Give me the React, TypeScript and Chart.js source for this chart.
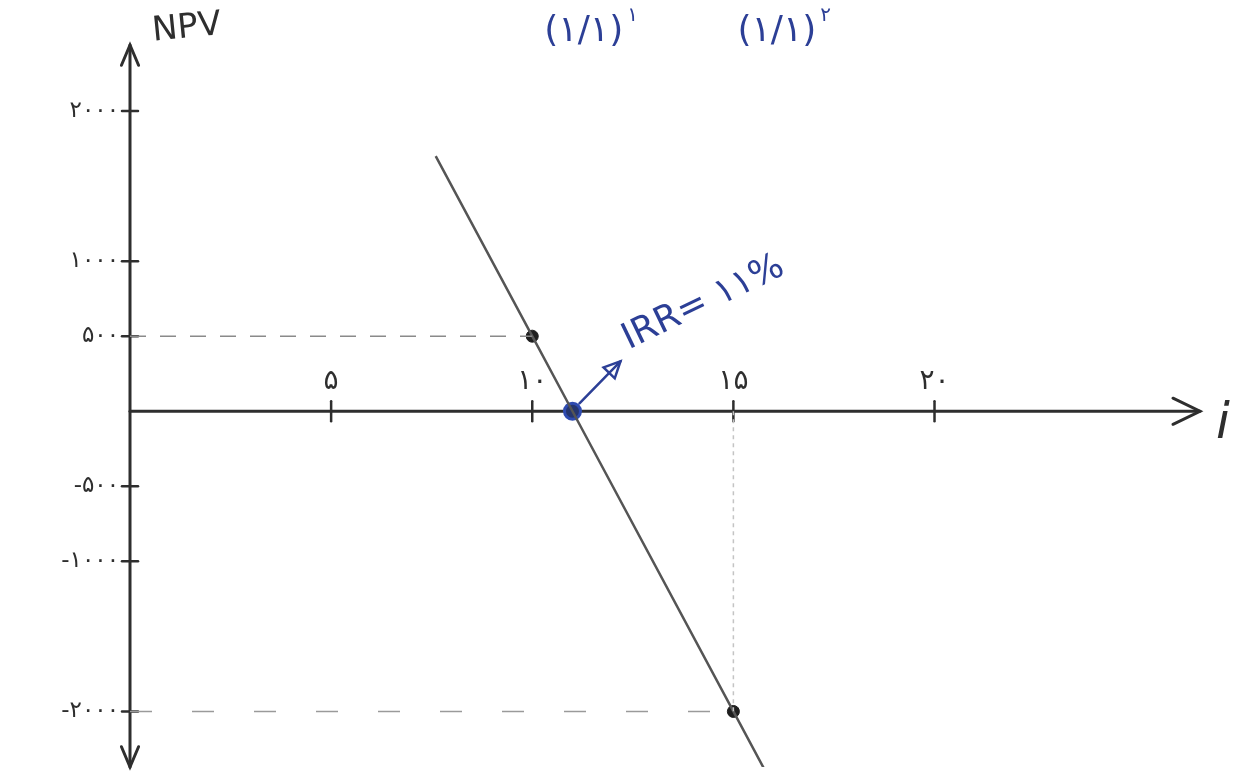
import React, { useEffect, useRef } from "react";
import { Chart, registerables } from "chart.js";

Chart.register(...registerables);

// Axis ticks and their (Persian) labels
const rateTicks = [5, 10, 15, 20];
const rateLabels = ["۵", "۱۰", "۱۵", "۲۰"];
const npvTicks = [2000, 1000, 500, -500, -1000, -2000];
const npvLabels = ["۲۰۰۰", "۱۰۰۰", "۵۰۰", "-۵۰۰", "-۱۰۰۰", "-۲۰۰۰"];

// NPV profile line (rate %, NPV)
const profileRates = [7.6, 10, 11, 15, 15.8];
const profileNpv = [1700, 500, 0, -2000, -2400];

// Evaluated points on the profile
const knownRates = [10, 15];
const knownNpv = [500, -2000];

// Internal rate of return
const irrRate = 11;
const irrNpv = 0;
const irrLabel = "IRR= ۱۱%";

// Formula fragments written above the chart
const formulaBase = ["(۱/۱)", "(۱/۱)"];
const formulaPower = ["۱", "۲"];

const X_MIN = 0;
const X_MAX = 26.6;
const Y_MIN = -2370;
const Y_MAX = 2440;

const PENCIL = "#2e2e2e";
const INK = "#2c3f96";
const DIGIT_FONT = '"DejaVu Sans", "Noto Sans", sans-serif';

const pts = (xs: number[], ys: number[]) => xs.map((x, i) => ({ x, y: ys[i] }));

function arrowHead(ctx: CanvasRenderingContext2D, tx: number, ty: number, angle: number, len: number, spread: number) {
  ctx.beginPath();
  ctx.moveTo(tx - len * Math.cos(angle - spread), ty - len * Math.sin(angle - spread));
  ctx.lineTo(tx, ty);
  ctx.lineTo(tx - len * Math.cos(angle + spread), ty - len * Math.sin(angle + spread));
  ctx.stroke();
}

const sketchAxes = {
  id: "sketchAxes",
  beforeDatasetsDraw(chart: any) {
    const { ctx, scales } = chart;
    const xs = scales.x;
    const ys = scales.y;
    const x0 = xs.getPixelForValue(0);
    const y0 = ys.getPixelForValue(0);
    ctx.save();
    ctx.strokeStyle = PENCIL;
    ctx.lineWidth = 3;
    ctx.lineCap = "round";

    // vertical NPV axis with arrows on both ends
    ctx.beginPath();
    ctx.moveTo(x0, ys.top);
    ctx.lineTo(x0, ys.bottom);
    ctx.stroke();
    arrowHead(ctx, x0, ys.top, -Math.PI / 2, 22, 0.4);
    arrowHead(ctx, x0, ys.bottom, Math.PI / 2, 22, 0.4);

    // horizontal rate axis
    ctx.beginPath();
    ctx.moveTo(x0, y0);
    ctx.lineTo(xs.right, y0);
    ctx.stroke();
    arrowHead(ctx, xs.right, y0, 0, 30, 0.45);

    // y ticks and labels
    ctx.lineWidth = 2.5;
    ctx.fillStyle = PENCIL;
    ctx.font = `23px ${DIGIT_FONT}`;
    ctx.textAlign = "right";
    ctx.textBaseline = "middle";
    npvTicks.forEach((v, i) => {
      const py = ys.getPixelForValue(v);
      ctx.beginPath();
      ctx.moveTo(x0 - 8, py);
      ctx.lineTo(x0 + 8, py);
      ctx.stroke();
      ctx.fillText(npvLabels[i], x0 - 11, py);
    });

    // x ticks and labels
    ctx.textAlign = "center";
    ctx.textBaseline = "bottom";
    ctx.font = `28px ${DIGIT_FONT}`;
    rateTicks.forEach((v, i) => {
      const px = xs.getPixelForValue(v);
      ctx.beginPath();
      ctx.moveTo(px, y0 - 10);
      ctx.lineTo(px, y0 + 10);
      ctx.stroke();
      ctx.fillText(rateLabels[i], px, y0 - 16);
    });

    // axis titles
    ctx.save();
    ctx.translate(x0 + 24, ys.top + 4);
    ctx.rotate(-0.1);
    ctx.font = `34px ${DIGIT_FONT}`;
    ctx.textAlign = "left";
    ctx.textBaseline = "bottom";
    ctx.fillText("NPV", 0, 0);
    ctx.restore();

    ctx.font = `italic 50px ${DIGIT_FONT}`;
    ctx.textAlign = "left";
    ctx.textBaseline = "middle";
    ctx.fillText("i", xs.right + 16, y0 + 14);
    ctx.restore();
  },
  afterDatasetsDraw(chart: any) {
    const { ctx, scales } = chart;
    const xs = scales.x;
    const ys = scales.y;
    const ix = xs.getPixelForValue(irrRate);
    const iy = ys.getPixelForValue(irrNpv);
    ctx.save();
    ctx.strokeStyle = INK;
    ctx.fillStyle = INK;
    ctx.lineWidth = 2.5;
    ctx.lineCap = "round";

    // pointer from the IRR crossing to its label
    const sx = ix + 7, sy = iy - 8;
    const tx = ix + 48, ty = iy - 50;
    ctx.beginPath();
    ctx.moveTo(sx, sy);
    ctx.lineTo(tx, ty);
    ctx.stroke();
    const ang = Math.atan2(ty - sy, tx - sx);
    ctx.beginPath();
    ctx.moveTo(tx, ty);
    ctx.lineTo(tx - 18 * Math.cos(ang - 0.45), ty - 18 * Math.sin(ang - 0.45));
    ctx.lineTo(tx - 18 * Math.cos(ang + 0.45), ty - 18 * Math.sin(ang + 0.45));
    ctx.closePath();
    ctx.stroke();

    ctx.save();
    ctx.translate(tx + 12, ty - 4);
    ctx.rotate(-0.45);
    ctx.font = `36px ${DIGIT_FONT}`;
    ctx.textAlign = "left";
    ctx.textBaseline = "bottom";
    ctx.fillText(irrLabel, 0, 0);
    ctx.restore();

    // formula fragments at the top
    const starts = [xs.getPixelForValue(10.3), xs.getPixelForValue(15.1)];
    formulaBase.forEach((t, i) => {
      ctx.font = `36px ${DIGIT_FONT}`;
      ctx.textAlign = "left";
      ctx.textBaseline = "middle";
      ctx.fillText(t, starts[i], 32);
      const w = ctx.measureText(t).width;
      ctx.font = `20px ${DIGIT_FONT}`;
      ctx.fillText(formulaPower[i], starts[i] + w + 4, 16);
    });
    ctx.restore();
  },
};

export default function App() {
  const ref = useRef<HTMLCanvasElement | null>(null);

  useEffect(() => {
    if (!ref.current) return;
    const guide = {
      type: "line" as const,
      showLine: true,
      pointRadius: 0,
      fill: false,
    };
    const chart = new Chart(ref.current, {
      type: "scatter",
      data: {
        datasets: [
          {
            ...guide,
            label: "NPV 500 guide",
            data: pts([0, knownRates[0]], [knownNpv[0], knownNpv[0]]),
            borderColor: "#8a8a8a",
            borderWidth: 1.5,
            borderDash: [16, 14],
          },
          {
            ...guide,
            label: "NPV -2000 guide",
            data: pts([0, knownRates[1]], [knownNpv[1], knownNpv[1]]),
            borderColor: "#9a9a9a",
            borderWidth: 1.5,
            borderDash: [22, 40],
          },
          {
            ...guide,
            label: "rate 15 guide",
            data: pts([knownRates[1], knownRates[1]], [0, knownNpv[1]]),
            borderColor: "#c4c4c4",
            borderWidth: 1.5,
            borderDash: [4, 4],
          },
          {
            ...guide,
            label: "NPV profile",
            data: pts(profileRates, profileNpv),
            borderColor: "#555555",
            borderWidth: 2.5,
          },
          {
            label: "evaluated points",
            data: pts(knownRates, knownNpv),
            pointRadius: 6,
            pointBackgroundColor: "#1e1e1e",
            pointBorderColor: "#1e1e1e",
            showLine: false,
          },
          {
            label: "IRR",
            data: pts([irrRate], [irrNpv]),
            pointRadius: 8,
            pointBackgroundColor: "#26366e",
            pointBorderColor: "#2f4bb0",
            pointBorderWidth: 3,
            showLine: false,
          },
        ],
      } as any,
      options: {
        animation: false,
        responsive: false,
        devicePixelRatio: 1,
        layout: { padding: { left: 130, right: 52, top: 45, bottom: 8 } },
        plugins: {
          legend: { display: false },
          tooltip: { enabled: false },
        },
        scales: {
          x: { type: "linear", min: X_MIN, max: X_MAX, display: false },
          y: { type: "linear", min: Y_MIN, max: Y_MAX, display: false },
        },
      },
      plugins: [sketchAxes],
    });
    return () => chart.destroy();
  }, []);

  return (
    <div style={{ position: "fixed", left: 0, top: 0, width: 1252, height: 778, background: "#ffffff" }}>
      <canvas ref={ref} width={1252} height={778} style={{ display: "block" }} />
    </div>
  );
}
